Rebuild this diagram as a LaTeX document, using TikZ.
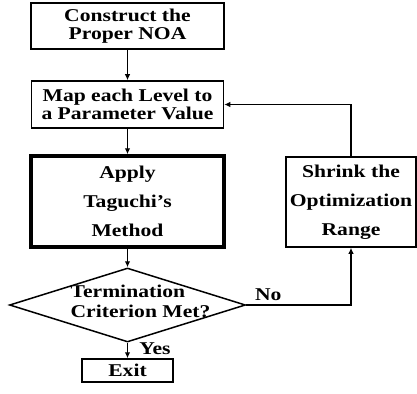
\documentclass[tikz,border=0pt]{standalone}
\usepackage{fontspec}
\setmainfont{Liberation Serif}[FakeStretch=1.2]
\usetikzlibrary{shapes.geometric,arrows.meta}

\begin{document}
\begin{tikzpicture}[x=1pt, y=-1pt,
    box/.style={draw, rectangle, align=center, inner sep=0pt, line width=1.5pt,
        font=\bfseries\fontsize{18}{17.5}\selectfont},
    tallbox/.style={box, font=\bfseries\fontsize{18}{29}\selectfont},
    decision/.style={draw, diamond, inner sep=0pt, line width=1.5pt},
    lbl/.style={font=\bfseries\fontsize{18}{18}\selectfont, inner sep=4pt},
    flow/.style={-{Latex[length=6pt,width=5.5pt]}, line width=1.6pt}]
    \useasboundingbox (0,0) rectangle (417,393);

    % main column
    \node[box, line width=2.2pt, minimum width=193pt, minimum height=46pt] (noa) at (127.5,26) {Construct the\\Proper NOA};
    \node[box, minimum width=192pt, minimum height=47pt] (map) at (127.5,104.5) {Map each Level to\\a Parameter Value};
    \node[tallbox, line width=3.5pt, minimum width=193pt, minimum height=91pt] (taguchi) at (127.5,201.5) {Apply\\Taguchi’s\\Method};
    \node[decision, minimum width=236pt, minimum height=74pt,
        label={[align=left, font=\bfseries\fontsize{18}{20}\selectfont, inner sep=0pt, xshift=13pt, yshift=4pt]center:Termination\\Criterion Met?}] (crit) at (127.5,305) {};
    \node[box, minimum width=91pt, minimum height=23pt] (exit) at (127.5,370.5) {Exit};

    % loop back
    \node[tallbox, minimum width=130pt, minimum height=90pt] (shrink) at (351,202) {Shrink the\\Optimization\\Range};

    \draw[flow] (noa) -- (map);
    \draw[flow] (map) -- (taguchi);
    \draw[flow] (taguchi) -- (crit);
    \draw[flow] (crit.south) -- node[lbl, right=7pt, pos=0.41] {Yes} (exit.north);
    \draw[flow] (crit.east) -- node[lbl, above, pos=0.21] {No} (crit.east -| shrink.south) -- (shrink.south);
    \draw[flow] (shrink.north) |- (map.east);
\end{tikzpicture}
\end{document}
